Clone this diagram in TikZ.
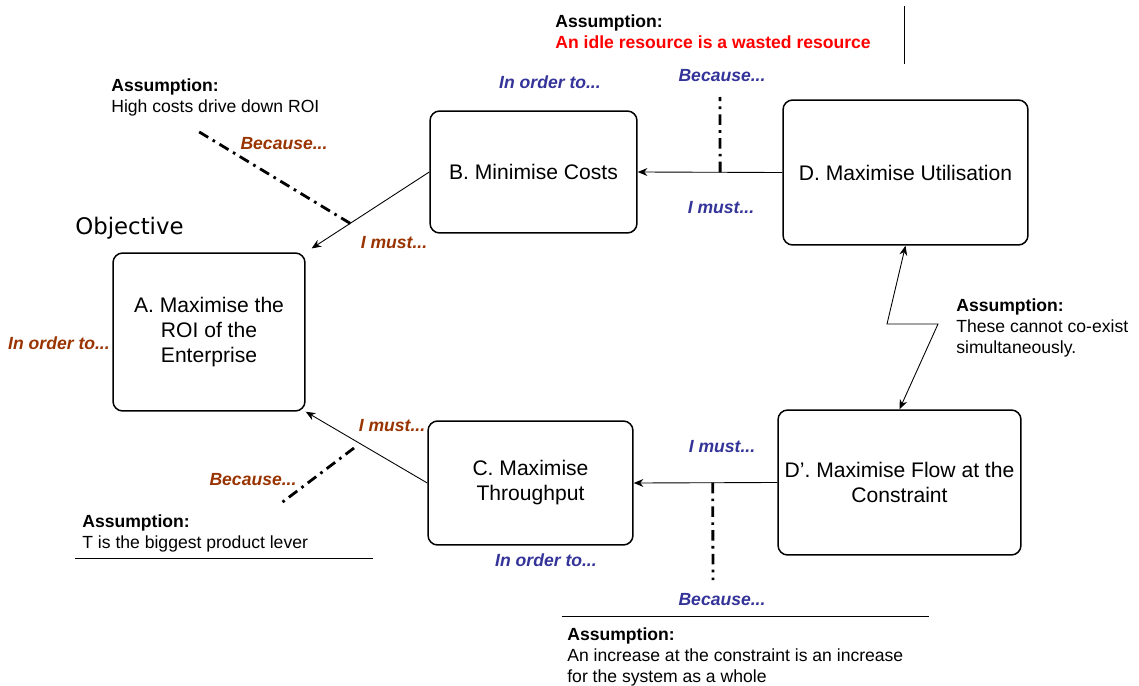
\documentclass[tikz,border=0pt]{standalone}
\usepackage{fontspec}
\setmainfont{Liberation Sans}
\newfontfamily\objfont{DejaVu Sans}
\usepackage{xcolor}
\usetikzlibrary{arrows.meta}
\definecolor{askblue}{RGB}{51,51,153}
\definecolor{askbrown}{RGB}{153,51,0}
\definecolor{askred}{RGB}{255,0,0}

\begin{document}
\begin{tikzpicture}[
    x=0.02cm,
    y=-0.02cm,
    goal/.style={
        draw,
        rectangle,
        rounded corners=5.5pt,
        line width=0.85pt,
        inner sep=0pt,
        align=center,
        font=\fontsize{12}{14.2}\selectfont
    },
    link/.style={
        -{Stealth[length=5.5pt,width=4.5pt]},
        line width=0.5pt
    },
    why/.style={
        line width=1.6pt,
        dash pattern=on 6pt off 3pt on 1.5pt off 3pt
    },
    cue/.style={
        font=\fontsize{10}{12}\selectfont\bfseries\itshape,
        inner sep=0pt
    },
    assume/.style={
        anchor=north west,
        align=left,
        inner sep=0pt,
        font=\fontsize{10}{12}\selectfont
    },
    rule/.style={
        line width=0.5pt
    }
]
    \useasboundingbox (0,0) rectangle (1139,686);

    % Objective
    \node[anchor=west, inner sep=0pt, font=\objfont\fontsize{13}{15}\selectfont] (objective) at (75,228) {Objective};
    \node[goal, minimum width=3.84cm, minimum height=3.16cm] (A) at (209,332) {A. Maximise the\\ROI of the\\Enterprise};

    % Requirements layer
    \node[goal, minimum width=4.14cm, minimum height=2.44cm] (B) at (533.5,172) {B. Minimise Costs};
    \node[goal, minimum width=4.1cm, minimum height=2.48cm] (C) at (530.5,483) {C. Maximise\\Throughput};

    % Prerequisites layer
    \node[goal, minimum width=4.9cm, minimum height=2.9cm] (D) at (905.5,172.5) {D. Maximise Utilisation};
    \node[goal, minimum width=4.86cm, minimum height=2.9cm] (Dp) at (899.5,482.5) {D’. Maximise Flow at the\\Constraint};

    % Necessity arrows
    \draw[link, shorten >=4pt] (B.west) -- coordinate[pos=0.64] (hookBA) (A.north east);
    \draw[link] (C.west) -- (A.south east);
    \draw[link] (D.west) -- coordinate[pos=0.43] (hookDB) (B.east);
    \draw[link] (Dp.west) -- coordinate[pos=0.45] (hookDpC) (C.east);

    % Conflict between D and D'
    \coordinate (bendL) at (887,324);
    \coordinate (bendR) at (938,324);
    \draw[link, {Stealth[length=5.5pt,width=4.5pt]}-{Stealth[length=5.5pt,width=4.5pt]}] (D.south) -- (bendL) -- (bendR) -- (Dp.north);

    % Because... lines to the assumptions
    \coordinate (endBA) at (196,130);
    \coordinate (endDB) at (720,97);
    \coordinate (startCA) at (354,448);
    \coordinate (endCA) at (280,504);
    \coordinate (endDpC) at (713,580);
    \draw[why] (hookBA) -- (endBA);
    \draw[why] (hookDB) -- (endDB);
    \draw[why] (startCA) -- (endCA);
    \draw[why] (hookDpC) -- (endDpC);

    % Reading cues, top half
    \node[cue, text=askblue] (orderB) at (550,82) {In order to...};
    \node[cue, text=askblue] (becauseDB) at (722,76) {Because...};
    \node[cue, text=askblue] (mustDB) at (721,208) {I must...};
    \node[cue, text=askbrown] (becauseBA) at (284,144) {Because...};
    \node[cue, text=askbrown] (mustBA) at (394,243) {I must...};
    \node[cue, text=askbrown] (orderA) at (59,343) {In order to...};

    % Reading cues, bottom half
    \node[cue, text=askbrown] (mustCA) at (392,426) {I must...};
    \node[cue, text=askbrown] (becauseCA) at (253,480) {Because...};
    \node[cue, text=askblue] (mustDpC) at (722,447) {I must...};
    \node[cue, text=askblue] (orderC) at (546,560) {In order to...};
    \node[cue, text=askblue] (becauseDpC) at (722,600) {Because...};

    % Assumptions
    \node[assume] (asBA) at (111,78) {\textbf{Assumption:}\\High costs drive down ROI};
    \node[assume] (asDB) at (555,14) {\textbf{Assumption:}\\\textcolor{askred}{\textbf{An idle resource is a wasted resource}}};
    \node[assume] (asDD) at (956,298) {\textbf{Assumption:}\\These cannot co-exist\\simultaneously.};
    \node[assume] (asCA) at (82,514) {\textbf{Assumption:}\\T is the biggest product lever};
    \node[assume] (asDpC) at (567,627) {\textbf{Assumption:}\\An increase at the constraint is an increase\\for the system as a whole};

    % Separator rules
    \draw[rule] (904,6) -- (904,64);
    \draw[rule] (75,558) -- (373,558);
    \draw[rule] (562,616) -- (929,616);

\end{tikzpicture}
\end{document}
